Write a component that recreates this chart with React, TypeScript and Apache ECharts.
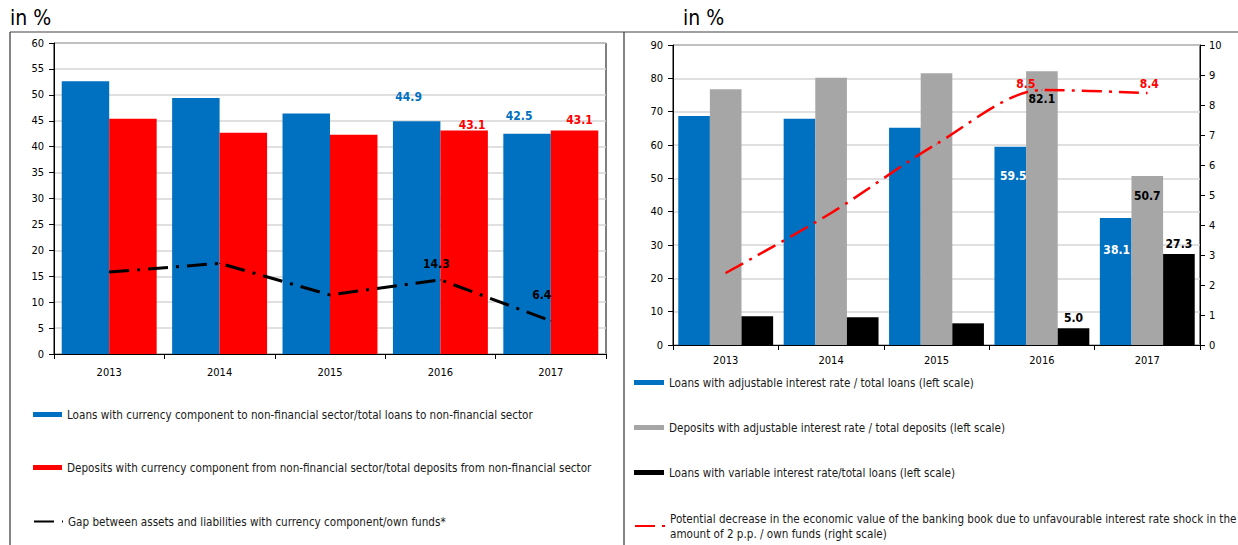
import React, { useEffect, useRef } from "react";
import * as echarts from "echarts";

const years = ["2013", "2014", "2015", "2016", "2017"];

// Left chart (left scale, %)
const loansCurrency = [52.6, 49.4, 46.4, 44.9, 42.5];
const depositsCurrency = [45.4, 42.7, 42.3, 43.1, 43.1];
const gapCurrency = [15.8, 17.5, 11.4, 14.3, 6.4];

// Right chart
const loansAdjustable = [68.7, 67.9, 65.2, 59.5, 38.1];
const depositsAdjustable = [76.7, 80.2, 81.5, 82.1, 50.7];
const loansVariable = [8.6, 8.3, 6.5, 5.0, 27.3];
const evDecrease = [2.4, 4.4, 6.7, 8.5, 8.4];

const leftTicks = { min: 0, max: 60, interval: 5 };
const rightTicksL = { min: 0, max: 90, interval: 10 };
const rightTicksR = { min: 0, max: 10, interval: 1 };

const nameLoansCur = "Loans with currency component to non-financial sector/total loans to non-financial sector";
const nameDepCur = "Deposits with currency component from non-financial sector/total deposits from non-financial sector";
const nameGap = "Gap between assets and liabilities with currency component/own funds*";
const nameLoansAdj = "Loans with adjustable interest rate / total loans (left scale)";
const nameDepAdj = "Deposits with adjustable interest rate / total deposits (left scale)";
const nameLoansVar = "Loans with variable interest rate/total loans (left scale)";
const nameEV = "Potential decrease in the economic value of the banking book due to unfavourable interest rate shock in the amount of 2 p.p. / own funds (right scale)";

const FONT = "'DejaVu Sans Condensed', 'DejaVu Sans', sans-serif";
const BLUE = "#0070C0";
const RED = "#FF0000";
const GRAY = "#A6A6A6";

// label offsets for labelled points (index 3 and 4)
const offs = {
  loansCur: [[-8, -13], [-8, -7]],
  depCur: [[8, 5], [5, 0]],
  gap: [[-4, -4], [-9, -14]],
  loansAdj: [[3, 40], [1, 43]],
  depAdj: [[0, 39], [0, 31]],
  loansVar: [[0, 1], [0, 1]],
  ev: [[-16, 5], [2, 2]],
};

function withLabels(values: number[], off: number[][], color: string) {
  return values.map((v, i) => {
    if (i < 3) return v;
    return {
      value: v,
      label: {
        show: true,
        position: "top",
        distance: 5,
        offset: off[i - 3],
        color,
        fontFamily: FONT,
        fontWeight: "bold",
        fontSize: 12,
        formatter: (p: any) => Number(p.value).toFixed(1),
      },
    };
  });
}

const axisText = { color: "#000", fontFamily: FONT, fontSize: 11 };
const legendText = { color: "#1a1a1a", fontFamily: FONT, fontSize: 11.6 };

function legendAt(name: string, left: number, top: number, width: number, isLine = false, fmt?: (n: string) => string) {
  const lg: any = {
    data: [name],
    left,
    top,
    padding: 0,
    itemWidth: width,
    itemHeight: 5,
    selectedMode: false,
    textStyle: { ...legendText, lineHeight: 15 },
  };
  if (isLine) lg.itemStyle = { opacity: 0 };
  else lg.icon = "rect";
  if (fmt) lg.formatter = fmt;
  return lg;
}

export default function App() {
  const ref = useRef<HTMLDivElement>(null);
  useEffect(() => {
    document.body.style.margin = "0";
    const chart = echarts.init(ref.current!, undefined, { renderer: "svg" });
    const option: any = {
      animation: false,
      textStyle: { fontFamily: FONT },
      grid: [
        { left: 54, top: 43, width: 552, height: 311, show: true, borderColor: "#000", borderWidth: 1, containLabel: false },
        { left: 673, top: 45, width: 527, height: 300, show: true, borderColor: "#000", borderWidth: 1, containLabel: false },
      ],
      xAxis: [
        {
          type: "category", gridIndex: 0, data: years,
          axisLine: { lineStyle: { color: "#000", width: 1 } },
          axisTick: { show: true, length: 5, lineStyle: { color: "#000" } },
          axisLabel: { ...axisText, margin: 13 },
        },
        {
          type: "category", gridIndex: 1, data: years,
          axisLine: { lineStyle: { color: "#000", width: 1 } },
          axisTick: { show: true, length: 5, lineStyle: { color: "#000" } },
          axisLabel: { ...axisText, margin: 10 },
        },
      ],
      yAxis: [
        {
          type: "value", gridIndex: 0, ...leftTicks,
          axisLine: { show: true, lineStyle: { color: "#000" } },
          axisTick: { show: true, length: 5, lineStyle: { color: "#000" } },
          axisLabel: { ...axisText, margin: 10 },
          splitLine: { lineStyle: { color: "#d6d6d6", width: 1.5 } },
        },
        {
          type: "value", gridIndex: 1, ...rightTicksL,
          axisLine: { show: true, lineStyle: { color: "#000" } },
          axisTick: { show: true, length: 5, lineStyle: { color: "#000" } },
          axisLabel: { ...axisText, margin: 10 },
          splitLine: { lineStyle: { color: "#d6d6d6", width: 1.5 } },
        },
        {
          type: "value", gridIndex: 1, position: "right", ...rightTicksR,
          axisLine: { show: true, lineStyle: { color: "#000" } },
          axisTick: { show: true, length: 5, lineStyle: { color: "#000" } },
          axisLabel: { ...axisText, margin: 9 },
          splitLine: { show: false },
        },
      ],
      legend: [
        legendAt(nameLoansCur, 33, 407, 29),
        legendAt(nameDepCur, 33, 460, 29),
        legendAt(nameGap, 33, 514, 29, true),
        legendAt(nameLoansAdj, 634, 375, 30),
        legendAt(nameDepAdj, 634, 420, 30),
        legendAt(nameLoansVar, 634, 465, 30),
        legendAt(nameEV, 634, 511, 30, true, (n: string) => n.replace("shock in the ", "shock in the\n")),
      ],
      series: [
        {
          name: nameLoansCur, type: "bar", xAxisIndex: 0, yAxisIndex: 0,
          barGap: "0%", barCategoryGap: "14%",
          itemStyle: { color: BLUE },
          data: withLabels(loansCurrency, offs.loansCur, BLUE),
        },
        {
          name: nameDepCur, type: "bar", xAxisIndex: 0, yAxisIndex: 0,
          barGap: "0%", barCategoryGap: "14%",
          itemStyle: { color: RED },
          data: withLabels(depositsCurrency, offs.depCur, RED),
        },
        {
          name: nameGap, type: "line", xAxisIndex: 0, yAxisIndex: 0,
          symbol: "circle", symbolSize: 1, showSymbol: true, z: 5,
          itemStyle: { color: "#000" },
          lineStyle: { color: "#000", width: 3, type: [20, 8, 3, 8] },
          data: withLabels(gapCurrency, offs.gap, "#000"),
        },
        {
          name: nameLoansAdj, type: "bar", xAxisIndex: 1, yAxisIndex: 1,
          barGap: "0%", barCategoryGap: "10%",
          itemStyle: { color: BLUE },
          data: withLabels(loansAdjustable, offs.loansAdj, "#fff"),
        },
        {
          name: nameDepAdj, type: "bar", xAxisIndex: 1, yAxisIndex: 1,
          barGap: "0%", barCategoryGap: "10%",
          itemStyle: { color: GRAY },
          data: withLabels(depositsAdjustable, offs.depAdj, "#000"),
        },
        {
          name: nameLoansVar, type: "bar", xAxisIndex: 1, yAxisIndex: 1,
          barGap: "0%", barCategoryGap: "10%",
          itemStyle: { color: "#000" },
          data: withLabels(loansVariable, offs.loansVar, "#000"),
        },
        {
          name: nameEV, type: "line", xAxisIndex: 1, yAxisIndex: 2,
          symbol: "circle", symbolSize: 1, showSymbol: true, smooth: 0.3, z: 5,
          itemStyle: { color: RED },
          lineStyle: { color: RED, width: 2.5, type: [20, 7, 3, 7] },
          data: withLabels(evDecrease, offs.ev, RED),
        },
      ],
      graphic: [
        { type: "line", shape: { x1: 10, y1: 32, x2: 1238, y2: 32 }, style: { stroke: "#808080", lineWidth: 1.5 } },
        { type: "line", shape: { x1: 10, y1: 32, x2: 10, y2: 545 }, style: { stroke: "#333", lineWidth: 1.2 } },
        { type: "line", shape: { x1: 624, y1: 32, x2: 624, y2: 545 }, style: { stroke: "#333", lineWidth: 1.2 } },
        { type: "text", left: 10, top: 7, style: { text: "in %", fontFamily: FONT, fontSize: 21, fill: "#000" } },
        { type: "text", left: 683, top: 7, style: { text: "in %", fontFamily: FONT, fontSize: 21, fill: "#000" } },
      ],
    };
    chart.setOption(option);
    return () => chart.dispose();
  }, []);
  return <div ref={ref} style={{ width: 1238, height: 545 }} />;
}
